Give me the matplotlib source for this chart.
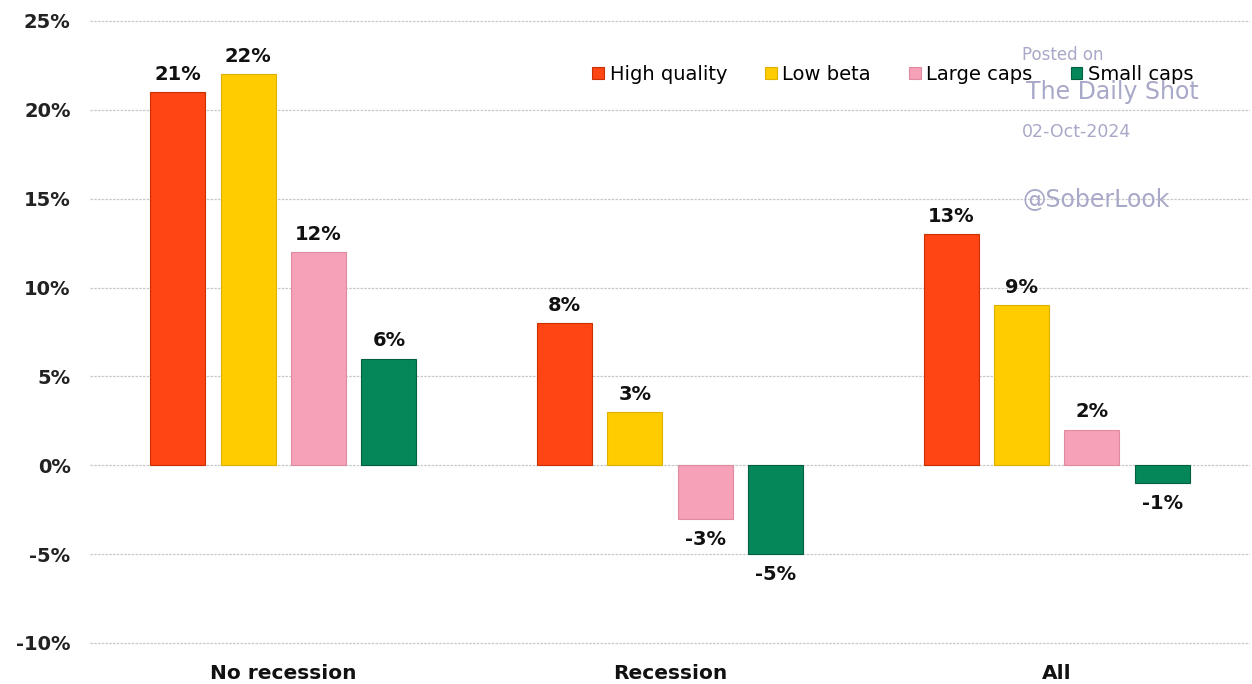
import matplotlib
matplotlib.use("Agg")
import matplotlib.pyplot as plt
import numpy as np

categories = ["No recession", "Recession", "All"]
series_names = ["High quality", "Low beta", "Large caps", "Small caps"]
high_quality = [21, 8, 13]
low_beta = [22, 3, 9]
large_caps = [12, -3, 2]
small_caps = [6, -5, -1]
yticks = [-10, -5, 0, 5, 10, 15, 20, 25]

colors = ["#ff4514", "#ffcc00", "#f7a1b9", "#05875a"]
edges = ["#c83000", "#e0b000", "#e08aa0", "#03603f"]

W, H = 1252, 684
fig = plt.figure(figsize=(W / 100, H / 100), dpi=100)
pp = 622 / 35.0
ymin, ymax = -10.3, 25.3
top_px = 21 - 0.3 * pp
bot_px = 643 + 0.3 * pp
ax = fig.add_axes([90 / W, 1 - bot_px / H, 1160 / W, (bot_px - top_px) / H])

x = np.arange(len(categories))
width = 0.142
offset = 0.182
all_series = [high_quality, low_beta, large_caps, small_caps]
for i, (vals, name) in enumerate(zip(all_series, series_names)):
    pos = x + (i - 1.5) * offset
    bars = ax.bar(pos, vals, width, color=colors[i], edgecolor=edges[i],
                  linewidth=0.8, label=name, zorder=3)
    for b, v in zip(bars, vals):
        cx = b.get_x() + b.get_width() / 2
        if v >= 0:
            ax.annotate(f"{v}%", (cx, v), xytext=(0, 6), textcoords="offset points",
                        ha="center", va="bottom", fontsize=14, fontweight="bold",
                        color="#111111")
        else:
            ax.annotate(f"{v}%", (cx, v), xytext=(0, -8), textcoords="offset points",
                        ha="center", va="top", fontsize=14, fontweight="bold",
                        color="#111111")

ax.set_xlim(-0.5, 2.5)
ax.set_ylim(ymin, ymax)
ax.set_yticks(yticks)
ax.set_yticklabels([f"{t}%" for t in yticks], fontsize=14, fontweight="bold",
                   color="#222222")
ax.set_xticks(x)
ax.set_xticklabels(categories, fontsize=14.5, fontweight="bold", color="#111111")
ax.tick_params(axis="both", length=0)
ax.tick_params(axis="y", pad=14)
ax.tick_params(axis="x", pad=11)
for s in ax.spines.values():
    s.set_visible(False)
ax.yaxis.grid(True, color="#c8c8c8", linestyle=(0, (2, 1)), linewidth=0.9, zorder=0)
ax.set_axisbelow(True)

leg = ax.legend(loc="upper left",
                bbox_to_anchor=(502 / 1160, 1 - (65 - top_px) / (bot_px - top_px)),
                ncol=4, frameon=False, fontsize=14, handlelength=0.6,
                handleheight=0.6, handletextpad=0.3, columnspacing=1.95,
                borderaxespad=0, borderpad=0)

wm = "#a8a8c8"
fig.text(1022 / W, 1 - 55 / H, "Posted on", ha="left", va="center", fontsize=12, color=wm)
fig.text(1026 / W, 1 - 92 / H, "The Daily Shot", ha="left", va="center", fontsize=17, color=wm)
fig.text(1022 / W, 1 - 132 / H, "02-Oct-2024", ha="left", va="center", fontsize=12.5, color=wm)
fig.text(1023 / W, 1 - 200 / H, "@SoberLook", ha="left", va="center", fontsize=17, color=wm)

fig.savefig("out.png", dpi=100, facecolor="white")
